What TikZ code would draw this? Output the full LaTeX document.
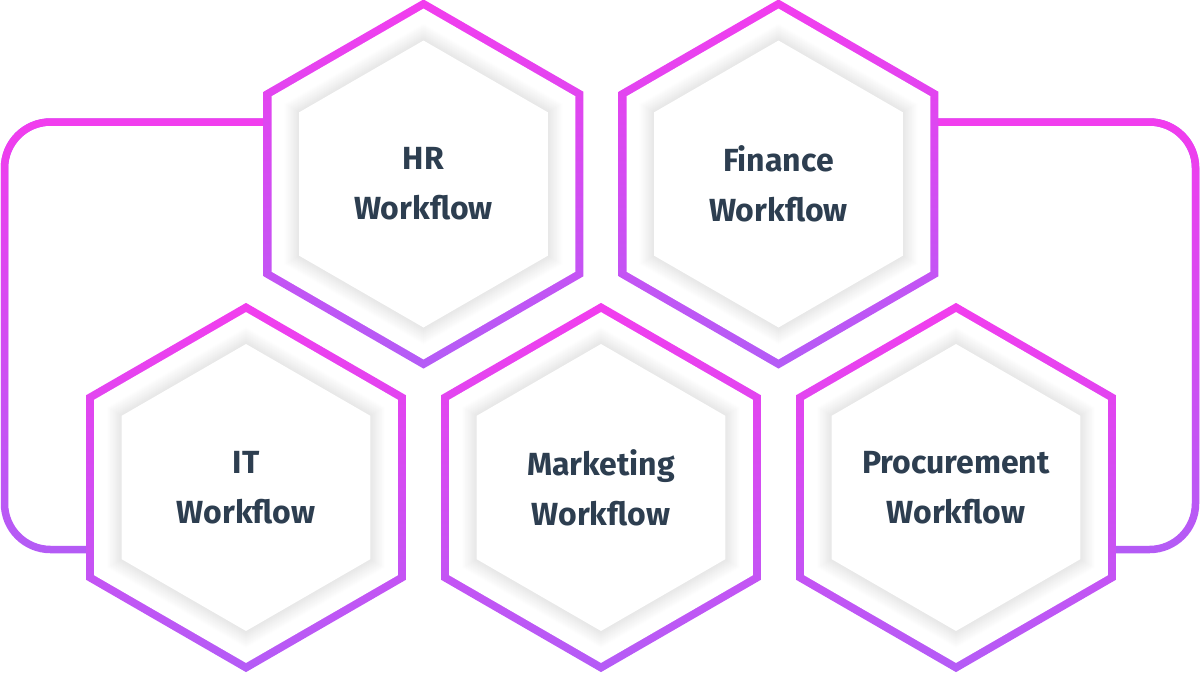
\documentclass[tikz,border=0pt]{standalone}
\usepackage{fontspec}
\setmainfont{Fira Sans}
\usetikzlibrary{shapes.geometric,backgrounds,fadings}
\definecolor{hexpink}{HTML}{F23DEE}
\definecolor{hexpurple}{HTML}{B45CF6}
\definecolor{labelgray}{HTML}{2D3E50}
\tikzfading[name=fadedown, top color=transparent!0, bottom color=transparent!100]
\newcommand{\hexpath}[2]{([shift={(30:#2)}]#1.center) -- ([shift={(90:#2)}]#1.center) -- ([shift={(150:#2)}]#1.center) -- ([shift={(210:#2)}]#1.center) -- ([shift={(270:#2)}]#1.center) -- ([shift={(330:#2)}]#1.center) -- cycle}
\begin{document}
\begin{tikzpicture}[x=1pt, y=-1pt,
  hexa/.style={regular polygon, regular polygon sides=6, shape border rotate=30, minimum size=360pt, inner sep=0pt, outer sep=0pt, align=center, text=labelgray, font=\fontsize{32}{50}\selectfont\bfseries},
  link/.style={line width=7.5pt, rounded corners=46pt}]
\useasboundingbox (0,0) rectangle (1200,673);
\node [hexa] (hr) at (423.5,184) {HR\\Workflow};
\node [hexa] (fin) at (778.5,184) {Finance\\Workflow};
\node [hexa] (it) at (246,487.5) {IT\\Workflow};
\node [hexa] (mkt) at (601,487.5) {Marketing\\Workflow};
\node [hexa] (proc) at (956,487.5) {Procurement\\Workflow};
\coordinate (lft) at (4.5,335);
\coordinate (rgt) at (1195.5,335);
\begin{scope}[on background layer]
\draw [link, hexpurple] ([yshift=62pt]hr.west) -| (lft) |- ([yshift=-62pt]it.west);
\draw [link, hexpink, path fading=fadedown] ([yshift=62pt]hr.west) -| (lft) |- ([yshift=-62pt]it.west);
\draw [link, hexpurple] ([yshift=62pt]fin.east) -| (rgt) |- ([yshift=-62pt]proc.east);
\draw [link, hexpink, path fading=fadedown] ([yshift=62pt]fin.east) -| (rgt) |- ([yshift=-62pt]proc.east);
\foreach \h in {hr,fin,it,mkt,proc} {
  \shade [top color=hexpink, bottom color=hexpurple] \hexpath{\h}{184.6};
  \fill [white] \hexpath{\h}{175.4};
  \foreach \r [evaluate=\r as \g using (161-\r)*0.55] in {160,159,...,144}
    \fill [black!\g] \hexpath{\h}{\r};
  \fill [white] \hexpath{\h}{143.5};
}
\end{scope}
\end{tikzpicture}
\end{document}
